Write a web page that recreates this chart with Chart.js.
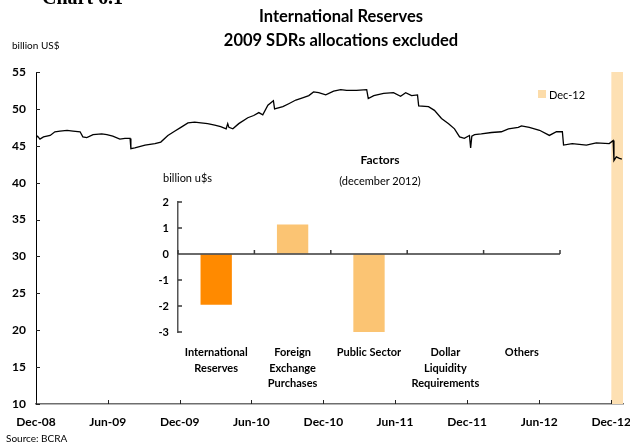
<!DOCTYPE html>
<html>
<head>
<meta charset="utf-8">
<script src="https://cdn.jsdelivr.net/npm/chart.js@4.4.1/dist/chart.umd.min.js"></script>
<style>
  html, body { margin: 0; padding: 0; background: #fff; }
  #wrap { position: relative; width: 630px; height: 444px; overflow: hidden; font-family: Lato, 'Open Sans', sans-serif; color: #000; }
  #wrap canvas { position: absolute; }
  .txt { position: absolute; white-space: nowrap; line-height: 1; }
  .c { transform: translate(-50%, -50%); }
  .l { transform: translateY(-50%); }
</style>
</head>
<body>
<div id="wrap">
  <canvas id="main" width="630" height="444" style="left:0;top:0"></canvas>
  <canvas id="inset" width="500" height="250" style="left:130px;top:150px"></canvas>

  <div class="txt" style="left:42px;top:-13px;font:bold 20px 'Liberation Serif', serif;line-height:20px">Chart 6.1</div>
  <div class="txt c" style="left:341px;top:16px;font-weight:bold;font-size:16.5px">International Reserves</div>
  <div class="txt c" style="left:341px;top:40px;font-weight:bold;font-size:16.5px">2009 SDRs allocations excluded</div>
  <div class="txt l" style="left:12px;top:45px;font-size:10px">billion US$</div>
  <div class="txt l" style="left:6px;top:438px;font-size:10px">Source: BCRA</div>

  <div style="position:absolute;left:538px;top:90px;width:8px;height:8px;background:#fcdcaa"></div>
  <div class="txt l" style="left:549px;top:94px;font-size:11px">Dec-12</div>

  <div class="txt c" style="left:380px;top:160px;font-weight:bold;font-size:12px">Factors</div>
  <div class="txt c" style="left:380px;top:180px;font-size:11px">(december 2012)</div>
  <div class="txt l" style="left:163px;top:177px;font-size:11px">billion u$s</div>
</div>

<script>
// daily international reserves (billion US$)
const reserveDates = [
  '2008-12-01', '2008-12-05', '2008-12-11', '2008-12-20', '2009-01-06', '2009-01-18', '2009-01-31',
  '2009-02-18', '2009-03-05', '2009-03-23', '2009-03-30', '2009-04-09', '2009-04-25', '2009-05-17',
  '2009-05-30', '2009-06-14', '2009-07-02', '2009-07-15', '2009-07-28', '2009-07-30', '2009-08-09',
  '2009-09-04', '2009-09-29', '2009-10-14', '2009-11-01', '2009-11-19', '2009-12-04', '2009-12-22',
  '2010-01-08', '2010-01-24', '2010-02-10', '2010-02-28', '2010-03-15', '2010-03-29', '2010-04-02',
  '2010-04-05', '2010-04-15', '2010-04-30', '2010-05-23', '2010-06-07', '2010-06-20', '2010-06-30',
  '2010-07-13', '2010-07-27', '2010-07-30', '2010-08-20', '2010-09-04', '2010-09-22', '2010-10-09',
  '2010-10-25', '2010-11-06', '2010-11-19', '2010-12-07', '2010-12-27', '2011-01-14', '2011-01-29',
  '2011-02-23', '2011-03-21', '2011-03-25', '2011-04-08', '2011-05-03', '2011-05-28', '2011-06-15',
  '2011-06-28', '2011-07-13', '2011-07-28', '2011-07-31', '2011-08-25', '2011-09-09', '2011-09-27',
  '2011-10-15', '2011-10-30', '2011-11-12', '2011-11-24', '2011-12-07', '2011-12-10', '2011-12-13',
  '2011-12-20', '2012-01-06', '2012-02-01', '2012-02-26', '2012-03-15', '2012-04-09', '2012-04-17',
  '2012-05-07', '2012-06-02', '2012-06-27', '2012-07-15', '2012-07-30', '2012-08-02', '2012-08-24',
  '2012-09-29', '2012-10-24', '2012-11-26', '2012-12-06', '2012-12-08', '2012-12-14', '2012-12-22',
  '2012-12-28'
];
const reserveValues = [
  46.1, 46.3, 45.9, 46.2, 46.4, 46.9, 47.0,
  47.1, 47.0, 46.9, 46.2, 46.1, 46.5, 46.6,
  46.5, 46.3, 45.9, 46.0, 46.0, 44.6, 44.7,
  45.1, 45.3, 45.5, 46.4, 47.0, 47.5, 48.1,
  48.2, 48.1, 48.0, 47.8, 47.6, 47.3, 48.0,
  47.5, 47.3, 48.0, 48.8, 49.1, 49.5, 49.2,
  50.5, 51.1, 50.0, 50.3, 50.7, 51.2, 51.5,
  51.8, 52.3, 52.2, 51.9, 52.4, 52.6, 52.5,
  52.5, 52.6, 51.4, 51.8, 52.1, 52.2, 51.7,
  52.2, 51.8, 51.9, 50.4, 50.3, 49.8, 48.7,
  48.0, 47.3, 46.2, 46.0, 46.4, 44.7, 46.3,
  46.5, 46.6, 46.8, 46.9, 47.3, 47.5, 47.7,
  47.5, 47.1, 46.4, 46.9, 46.9, 45.1, 45.3,
  45.1, 45.4, 45.3, 45.7, 43.0, 43.5, 43.3,
  43.2
];

const tickDates = ['2008-12-01', '2009-06-01', '2009-12-01', '2010-06-01', '2010-12-01',
                   '2011-06-01', '2011-12-01', '2012-06-01', '2012-12-01'];
const tickLabels = ['Dec-08', 'Jun-09', 'Dec-09', 'Jun-10', 'Dec-10', 'Jun-11', 'Dec-11', 'Jun-12', 'Dec-12'];

// highlighted month
const bandLabel = 'Dec-12';
const bandDates = ['2012-12-01', '2012-12-31'];
const bandTop = 55;

// inset: factors of the December 2012 change (billion u$s)
const factorLabels = [
  ['International', 'Reserves'],
  ['Foreign', 'Exchange', 'Purchases'],
  'Public Sector',
  ['Dollar', 'Liquidity', 'Requirements'],
  'Others'
];
const factorValues = [-1.95, 1.13, -3.0, 0, 0];

const barColors = ['#ff8a00', '#fbc473', '#fbc473', '#fbc473', '#fbc473'];

const day0 = Date.parse(reserveDates[0]);
const toDay = d => (Date.parse(d) - day0) / 86400000;

Chart.defaults.font.family = "Lato, 'Open Sans', sans-serif";
Chart.defaults.color = '#000';

const mainTicks = {
  id: 'mainTicks',
  afterDraw(chart) {
    const { ctx, chartArea: a, scales: { x, y } } = chart;
    ctx.save();
    ctx.strokeStyle = '#222';
    ctx.lineWidth = 1;
    ctx.beginPath();
    x.ticks.forEach(t => {
      const px = Math.round(x.getPixelForValue(t.value)) + 0.5;
      ctx.moveTo(px, a.bottom);
      ctx.lineTo(px, a.bottom - 4);
    });
    y.ticks.forEach(t => {
      const py = Math.round(y.getPixelForValue(t.value)) + 0.5;
      ctx.moveTo(a.left, py);
      ctx.lineTo(a.left + 4, py);
    });
    ctx.stroke();
    ctx.restore();
  }
};

new Chart(document.getElementById('main'), {
  type: 'line',
  data: {
    datasets: [{
      label: 'International Reserves',
      data: reserveDates.map((d, i) => ({ x: toDay(d), y: reserveValues[i] })),
      borderColor: '#000',
      borderWidth: 1.3,
      pointRadius: 0,
      tension: 0,
      fill: false
    }, {
      label: bandLabel,
      data: bandDates.map(d => ({ x: toDay(d), y: bandTop })),
      borderWidth: 0,
      pointRadius: 0,
      backgroundColor: '#fde0b3',
      fill: 'start'
    }]
  },
  options: {
    responsive: false,
    animation: false,
    layout: { padding: { top: 72, right: 7, bottom: 0, left: 0 } },
    plugins: { legend: { display: false }, tooltip: { enabled: false } },
    scales: {
      x: {
        type: 'linear',
        min: 0,
        max: toDay(bandDates[1]),
        afterBuildTicks: s => { s.ticks = tickDates.map(d => ({ value: toDay(d) })); },
        afterFit: s => { s.height = 40; s.paddingLeft = 0; s.paddingRight = 0; },
        grid: { drawOnChartArea: false, drawTicks: false },
        border: { color: '#6e6e6e', width: 1.5 },
        ticks: {
          autoSkip: false,
          maxRotation: 0,
          padding: 11,
          font: { size: 12, weight: 'bold' },
          callback: (v, i) => tickLabels[i]
        }
      },
      y: {
        min: 10,
        max: 55,
        afterFit: s => { s.width = 36; },
        grid: { drawOnChartArea: false, drawTicks: false },
        border: { color: '#000', width: 1 },
        ticks: { stepSize: 5, padding: 10, font: { size: 12, weight: 'bold' } }
      }
    }
  },
  plugins: [mainTicks]
});

const insetAxes = {
  id: 'insetAxes',
  afterDatasetsDraw(chart) {
    const { ctx, chartArea: a, scales: { x, y } } = chart;
    const y0 = y.getPixelForValue(0);
    const n = x.getLabels().length;
    ctx.save();
    ctx.strokeStyle = '#3a3a3a';
    ctx.lineWidth = 1.5;
    ctx.beginPath();
    ctx.moveTo(a.left, y0);
    ctx.lineTo(a.right, y0);
    for (let i = 0; i <= n; i++) {
      const px = a.left + i * a.width / n;
      ctx.moveTo(px, y0);
      ctx.lineTo(px, y0 - 4);
    }
    y.ticks.forEach(t => {
      const py = y.getPixelForValue(t.value);
      ctx.moveTo(a.left, py);
      ctx.lineTo(a.left + 4, py);
    });
    ctx.stroke();
    ctx.restore();
  }
};

new Chart(document.getElementById('inset'), {
  type: 'bar',
  data: {
    labels: factorLabels,
    datasets: [{
      label: 'Factors',
      data: factorValues,
      backgroundColor: barColors,
      borderWidth: 0,
      barPercentage: 0.41,
      categoryPercentage: 1
    }]
  },
  options: {
    responsive: false,
    animation: false,
    layout: { padding: { top: 52, right: 70, bottom: 0, left: 0 } },
    plugins: { legend: { display: false }, tooltip: { enabled: false } },
    scales: {
      x: {
        afterFit: s => { s.height = 68; },
        grid: { drawOnChartArea: false, drawTicks: false },
        border: { display: false },
        ticks: {
          autoSkip: false,
          maxRotation: 0,
          padding: 13,
          font: { size: 11, weight: 'bold', lineHeight: 1.4 }
        }
      },
      y: {
        min: -3,
        max: 2,
        afterFit: s => { s.width = 48; },
        grid: { drawOnChartArea: false, drawTicks: false },
        border: { color: '#555', width: 1.5 },
        ticks: { stepSize: 1, padding: 9, font: { size: 11, weight: 'bold' } }
      }
    }
  },
  plugins: [insetAxes]
});
</script>
</body>
</html>
